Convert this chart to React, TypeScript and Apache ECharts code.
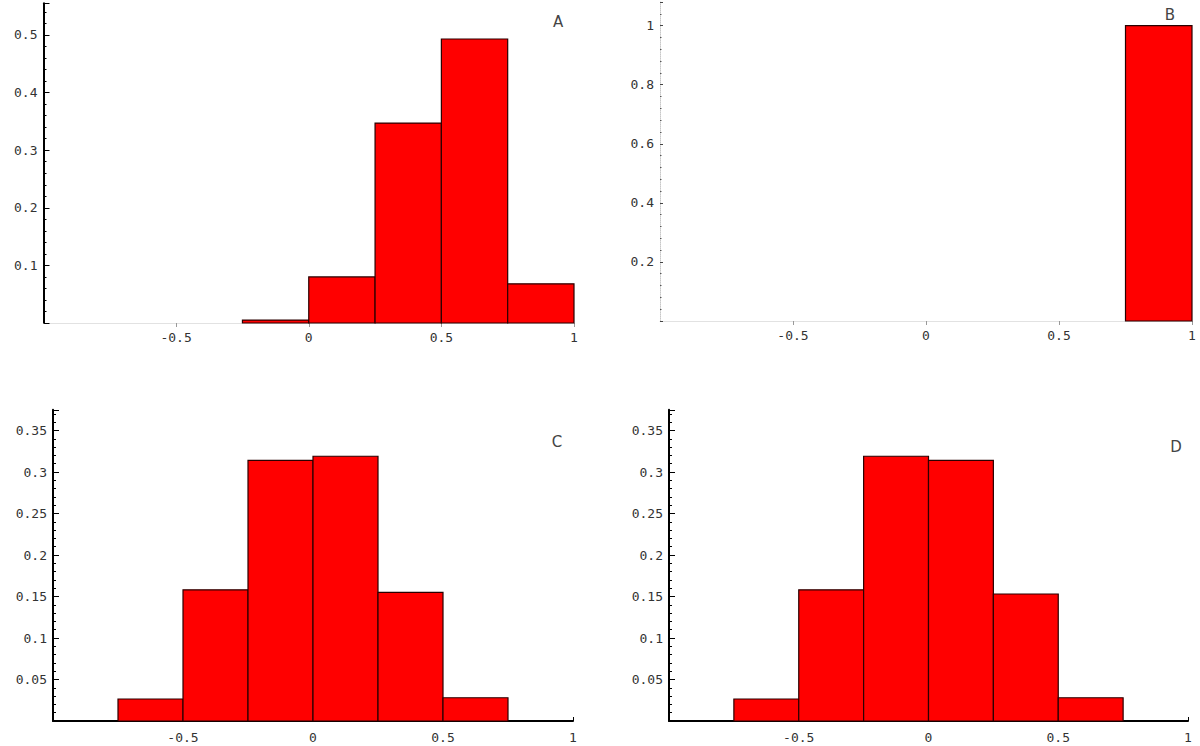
import React, { useEffect, useRef } from "react";
import * as echarts from "echarts";

// Histogram bins: [left edge, right edge] with relative frequencies
const edgesA = [-0.25, 0, 0.25, 0.5, 0.75, 1];
const heightsA = [0.005, 0.08, 0.347, 0.493, 0.068];
const edgesB = [0.75, 1];
const heightsB = [1.0];
const edgesC = [-0.75, -0.5, -0.25, 0, 0.25, 0.5, 0.75];
const heightsC = [0.0265, 0.158, 0.314, 0.319, 0.155, 0.028];
const edgesD = [-0.75, -0.5, -0.25, 0, 0.25, 0.5, 0.75];
const heightsD = [0.0265, 0.158, 0.319, 0.314, 0.153, 0.028];

const panelLabels = ["A", "B", "C", "D"];
const xTickLabels = [-0.5, 0, 0.5, 1];
const yTicksA = [0.1, 0.2, 0.3, 0.4, 0.5];
const yTicksB = [0.2, 0.4, 0.6, 0.8, 1];
const yTicksCD = [0.05, 0.1, 0.15, 0.2, 0.25, 0.3, 0.35];

const toBins = (edges: number[], heights: number[]) =>
  heights.map((h, i) => [edges[i], edges[i + 1], h]);

const FONT = "DejaVu Sans Mono";

const fmt = (list: number[]) => (v: number) => {
  const r = Math.round(v * 1000) / 1000;
  return list.some((t) => Math.abs(t - r) < 1e-9) ? String(r) : "";
};

export default function App() {
  const ref = useRef<HTMLDivElement>(null);
  useEffect(() => {
    if (!ref.current) return;
    const chart = echarts.init(ref.current, null, { renderer: "svg" });

    const grids = [
      { left: 43.5, top: 3.3, width: 530.5, height: 319.7 },
      { left: 660, top: 2, width: 532, height: 319 },
      { left: 53, top: 409.75, width: 520, height: 311.25 },
      { left: 669, top: 409.75, width: 519, height: 311.25 },
    ].map((g) => ({ ...g, containLabel: false, outerBoundsMode: "none" }));

    const yCfg = [
      { max: 0.555, interval: 0.1, list: yTicksA, style: "solid" },
      { max: 1.08, interval: 0.2, list: yTicksB, style: "dotted" },
      { max: 0.375, interval: 0.05, list: yTicksCD, style: "solid" },
      { max: 0.375, interval: 0.05, list: yTicksCD, style: "solid" },
    ];

    const labelStyle = { fontFamily: FONT, fontSize: 13, color: "#333" };

    const xAxis = [0, 1, 2, 3].map((i) => {
      const faint = i < 2;
      return {
        type: "value",
        gridIndex: i,
        min: -1,
        max: 1,
        interval: 0.5,
        splitLine: { show: false },
        axisLine: {
          show: true,
          onZero: false,
          lineStyle: faint
            ? { color: "#e2e2e2", width: 1 }
            : { color: "#000", width: 2 },
        },
        axisTick: {
          show: true,
          inside: !faint,
          length: 4,
          lineStyle: { color: faint ? "#999" : "#000", width: 1 },
        },
        axisLabel: {
          ...labelStyle,
          margin: faint ? 8 : 10,
          showMinLabel: false,
          formatter: fmt(xTickLabels),
        },
      };
    });

    const yAxis = yCfg.map((c, i) => {
      const dotted = c.style === "dotted";
      return {
        type: "value",
        gridIndex: i,
        min: 0,
        max: c.max,
        interval: c.interval,
        splitLine: { show: false },
        axisLine: {
          show: true,
          onZero: false,
          lineStyle: dotted
            ? { color: "#c8c8c8", width: 1, type: "dotted" }
            : { color: "#000", width: 2 },
        },
        axisTick: {
          show: true,
          inside: true,
          length: dotted ? 3 : 6,
          lineStyle: { color: dotted ? "#444" : "#000", width: 1 },
        },
        minorTick: {
          show: true,
          splitNumber: 5,
          length: dotted ? 1.5 : 3,
          lineStyle: { color: dotted ? "#555" : "#000", width: 1 },
        },
        axisLabel: {
          ...labelStyle,
          margin: 6,
          showMinLabel: false,
          showMaxLabel: false,
          formatter: fmt(c.list),
        },
      };
    });

    const binsList = [
      toBins(edgesA, heightsA),
      toBins(edgesB, heightsB),
      toBins(edgesC, heightsC),
      toBins(edgesD, heightsD),
    ];

    const series = binsList.map((bins, i) => ({
      type: "custom",
      xAxisIndex: i,
      yAxisIndex: i,
      data: bins,
      encode: { x: [0, 1], y: 2 },
      renderItem: (_p: any, api: any) => {
        const p0 = api.coord([api.value(0), api.value(2)]);
        const p1 = api.coord([api.value(1), 0]);
        return {
          type: "rect",
          shape: {
            x: p0[0],
            y: p0[1],
            width: p1[0] - p0[0],
            height: p1[1] - p0[1],
          },
          style: { fill: "#ff0000", stroke: "#2a0000", lineWidth: 1.2 },
        };
      },
    }));

    const labelPos = [
      [558, 22],
      [1170, 15],
      [557, 442],
      [1176, 447],
    ];

    chart.setOption({
      animation: false,
      backgroundColor: "#ffffff",
      grid: grids,
      xAxis,
      yAxis,
      series,
      graphic: panelLabels.map((t, i) => ({
        type: "text",
        x: labelPos[i][0],
        y: labelPos[i][1],
        style: {
          text: t,
          fontFamily: "DejaVu Sans",
          fontSize: 15,
          fill: "#444",
          align: "center",
          verticalAlign: "middle",
        },
      })),
    });
    return () => chart.dispose();
  }, []);
  return (
    <div
      ref={ref}
      style={{ position: "fixed", left: 0, top: 0, width: 1200, height: 746 }}
    />
  );
}
